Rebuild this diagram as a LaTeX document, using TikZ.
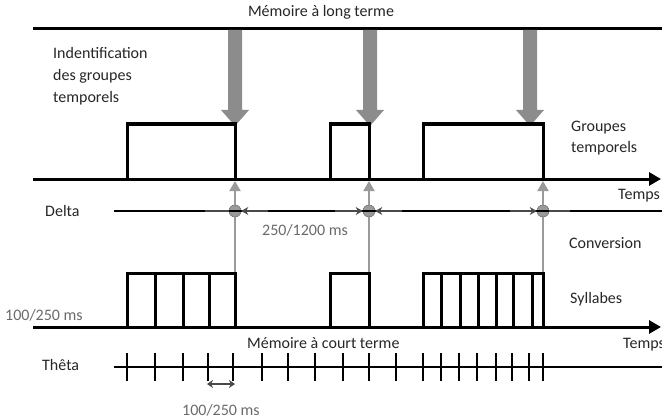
\documentclass[tikz,border=0pt]{standalone}
\usepackage{fontspec}
\setmainfont{Carlito}
\usetikzlibrary{arrows.meta}
\definecolor{txt}{HTML}{262626}
\definecolor{num}{HTML}{6A6A6A}
\definecolor{bigarrow}{HTML}{8C8C8C}
\definecolor{gline}{HTML}{9A9A9A}
\definecolor{dimc}{HTML}{4A4A4A}
\begin{document}
\begin{tikzpicture}[x=1pt,y=-1pt,
  lbl/.style={font=\fontsize{16}{21}\selectfont, text=txt, inner sep=0pt},
  numlbl/.style={font=\fontsize{16}{21}\selectfont, text=num, inner sep=0pt},
  axisline/.style={line width=3pt, -{Triangle[length=12pt,width=13pt]}},
  memline/.style={line width=3pt},
  pulse/.style={line width=3pt, line join=miter, line cap=rect},
  divider/.style={line width=3pt},
  thinline/.style={line width=1.3pt},
  tick/.style={line width=1.3pt},
  uparrow/.style={gline, line width=2pt, -{Triangle[length=10pt,width=11pt]}},
  vline/.style={gline, line width=2pt},
  dimarrow/.style={dimc, line width=2pt, -{Stealth[length=7pt,width=8pt]}},
  dimboth/.style={dimc, line width=1.8pt, {Stealth[length=6pt,width=8pt]}-{Stealth[length=6pt,width=8pt]}},
  dot/.style={circle, fill=gline, draw=gline!75!black, line width=0.6pt, minimum size=12pt, inner sep=0pt}
]
\useasboundingbox (0,0) rectangle (662,420);

% ---------- long-term memory line ----------
\coordinate (memL) at (33,29);
\coordinate (memR) at (662,29);
\draw[memline] (memL) -- (memR);
\node[lbl, anchor=base] (memlong) at (321,17) {Mémoire à long terme};

% ---------- big grey arrows ----------
\foreach \x/\tip in {235/124, 370/124, 530/124}{
  \fill[bigarrow] (\x-7,30) -- (\x+7,30) -- (\x+7,110) -- (\x+14,110)
     -- (\x,\tip+2) -- (\x-14,110) -- (\x-7,110) -- cycle;
}

% ---------- labels left ----------
\node[lbl, anchor=north west, align=left, font=\fontsize{16}{22}\selectfont] (ident) at (53,47)
  {Indentification\\des groupes\\temporels};

% ---------- time axis 1 and groups ----------
\coordinate (ax1L) at (33,179);
\coordinate (ax1R) at (661,179);
\draw[axisline] (ax1L) -- (ax1R);
\draw[pulse] (127,179) -- (127,124) -- (235,124) -- (235,179);
\draw[pulse] (330,179) -- (330,124) -- (369,124) -- (369,179);
\draw[pulse] (423,179) -- (423,124) -- (543,124) -- (543,179);
\node[lbl, anchor=north west, align=left] (groupes) at (571,121) {Groupes\\temporels};
\node[lbl, anchor=base west] (temps1) at (618,199) {Temps};

% ---------- Delta ----------
\node[dot] (c1) at (235,211) {};
\node[dot] (c2) at (369,211) {};
\node[dot] (c3) at (543,211) {};
\coordinate (dL) at (114,211);
\coordinate (dR) at (662,211);
\draw[thinline] (dL) -- (dR);
\node[lbl, anchor=base west] (delta) at (45,216) {Delta};
\coordinate (c1a) at (268,211);
\coordinate (c2a) at (335,211);
\coordinate (c2b) at (402,211);
\coordinate (c3a) at (510,211);
\draw[dimarrow] (c1a) -- (c1.east);
\draw[dimarrow] (c2a) -- (c2.west);
\draw[dimarrow] (c2b) -- (c2.east);
\draw[dimarrow] (c3a) -- (c3.west);
\draw[dimc, line width=1.6pt] (205,211) -- (c1.west);
\draw[dimc, line width=1.6pt] (c3.east) -- (570,211);
\node[numlbl, anchor=base west] (dur1) at (262,235) {250/1200 ms};
\node[lbl, anchor=base west] (conv) at (569,248) {Conversion};

% up arrows to the axis
\coordinate (u1) at (235,181);
\coordinate (u2) at (369,181);
\coordinate (u3) at (543,181);
\draw[uparrow] (c1.north) -- (u1);
\draw[uparrow] (c2.north) -- (u2);
\draw[uparrow] (c3.north) -- (u3);

% grey lines from syllables
\coordinate (s1) at (235,272);
\coordinate (s2) at (369,272);
\coordinate (s3) at (543,272);
\draw[vline] (s1) -- (c1.south);
\draw[vline] (s2) -- (c2.south);
\draw[vline] (s3) -- (c3.south);

% ---------- syllables axis ----------
\coordinate (ax2L) at (33,327);
\coordinate (ax2R) at (661,327);
\draw[axisline] (ax2L) -- (ax2R);
\draw[pulse] (127,327) -- (127,273) -- (235,273) -- (235,327);
\foreach \x in {155,183,209} \draw[divider] (\x,273) -- (\x,327);
\draw[pulse] (330,327) -- (330,273) -- (369,273) -- (369,327);
\draw[pulse] (423,327) -- (423,273) -- (543,273) -- (543,327);
\foreach \x in {441,460,478,496,513,532} \draw[divider] (\x,273) -- (\x,327);
\node[lbl, anchor=base west] (syll) at (570,303) {Syllabes};
\node[numlbl, anchor=base west] (dur2) at (5,320) {100/250 ms};
\node[lbl, anchor=base west] (memcourt) at (247,348) {Mémoire à court terme};
\node[lbl, anchor=base west] (temps2) at (623,348) {Temps};

% ---------- Theta ----------
\coordinate (tL) at (114,367);
\coordinate (tR) at (662,367);
\draw[thinline] (tL) -- (tR);
\node[lbl, anchor=base west] (theta) at (42,370) {Thêta};
\foreach \x in {127,155,183,208,233,262,288,315,343,369,396,423,441,459,477,496,512,529,543}
  \draw[tick] (\x,353) -- (\x,381);
\coordinate (ta) at (207,384);
\coordinate (tb) at (235,384);
\draw[dimboth] (ta) -- (tb);
\node[numlbl, anchor=base west] (dur3) at (182,415) {100/250 ms};
\end{tikzpicture}
\end{document}
